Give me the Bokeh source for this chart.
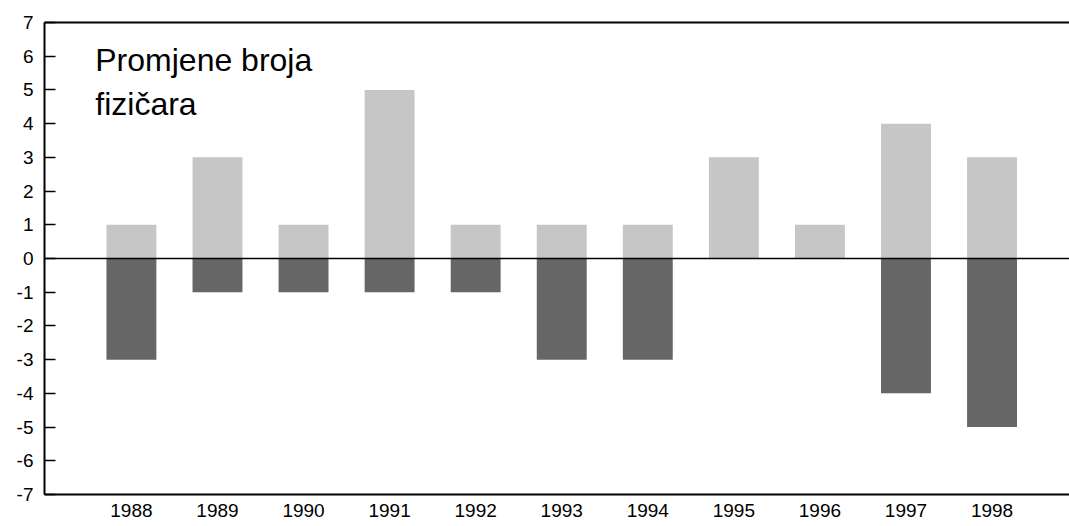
from bokeh.plotting import figure
from bokeh.models import (FixedTicker, Range1d, Span, LinearAxis, Label, ColumnDataSource)
from bokeh.embed import file_html
from bokeh.resources import INLINE

years = [1988, 1989, 1990, 1991, 1992, 1993, 1994, 1995, 1996, 1997, 1998]
gains = [1, 3, 1, 5, 1, 1, 1, 3, 1, 4, 3]
losses = [-3, -1, -1, -1, -1, -3, -3, 0, 0, -4, -5]
y_ticks = list(range(-7, 8))
title_lines = ["Promjene broja", "fizičara"]

FONT = "Liberation Sans"

p = figure(width=1069, height=526, output_backend="svg", toolbar_location=None,
           x_range=Range1d(1986.99, 1998.90), y_range=Range1d(-7, 7))
p.min_border_left = 44
p.min_border_right = 0
p.min_border_top = 22
p.min_border_bottom = 32
p.outline_line_color = None
p.xgrid.grid_line_color = None
p.ygrid.grid_line_color = None
p.background_fill_color = "white"
p.border_fill_color = "white"

src = ColumnDataSource(dict(x=years, g=gains, l=losses, z=[0] * len(years)))
p.vbar(x="x", bottom="z", top="g", width=0.58, source=src,
       fill_color="#c6c6c6", line_color=None)
p.vbar(x="x", bottom="l", top="z", width=0.58, source=src,
       fill_color="#666666", line_color=None)

p.add_layout(Span(location=0, dimension="width", line_color="black", line_width=1.5))

# y axis
ya = p.yaxis[0]
ya.ticker = FixedTicker(ticks=y_ticks)
ya.major_label_overrides = {t: str(t) for t in y_ticks}
ya.major_tick_in = 11
ya.major_tick_out = 0
ya.minor_tick_line_color = None
ya.axis_line_width = 2
ya.axis_line_color = "black"
ya.major_tick_line_color = "black"
ya.major_tick_line_width = 1.5
ya.major_label_standoff = 11
ya.major_label_text_font = FONT
ya.major_label_text_font_size = "19px"
ya.major_label_text_color = "black"

# x axis
xa = p.xaxis[0]
xa.ticker = FixedTicker(ticks=years)
xa.major_label_overrides = {y: str(y) for y in years}
xa.major_tick_in = 0
xa.major_tick_out = 0
xa.minor_tick_line_color = None
xa.axis_line_width = 2
xa.axis_line_color = "black"
xa.major_label_standoff = 9
xa.major_label_text_font = FONT
xa.major_label_text_font_size = "19px"
xa.major_label_text_color = "black"

# top border line
top = LinearAxis(major_label_text_font_size="0px", major_tick_line_color=None,
                 minor_tick_line_color=None, axis_line_width=2, axis_line_color="black",
                 major_label_standoff=0)
top.ticker = FixedTicker(ticks=[])
p.add_layout(top, "above")

# title inside plot
p.add_layout(Label(x=1987.58, y=5.88, text=title_lines[0], text_font=FONT,
                   text_font_size="32px", text_color="black", text_baseline="alphabetic"))
p.add_layout(Label(x=1987.58, y=4.57, text=title_lines[1], text_font=FONT,
                   text_font_size="32px", text_color="black", text_baseline="alphabetic"))

open("out.html", "w").write(file_html(p, INLINE))
